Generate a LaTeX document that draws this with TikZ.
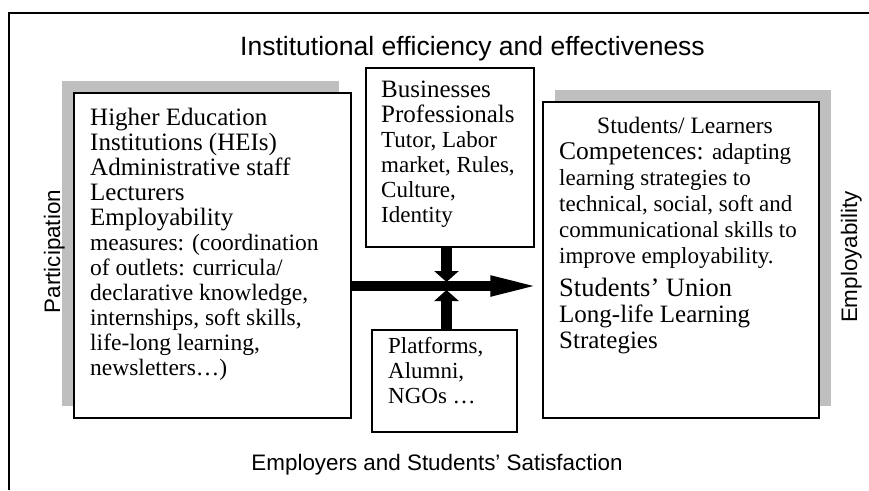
\documentclass[tikz,border=0pt]{standalone}
\usepackage{fontspec}
\setmainfont{Liberation Serif}
\newfontfamily\labelfont{Liberation Sans}
\usepackage{tikz}
\usetikzlibrary{positioning,arrows.meta,shadows}

\newcommand{\bigsz}{\fontsize{25}{25}\selectfont}
\newcommand{\midsz}{\fontsize{23.5}{25}\selectfont}
\newcommand{\smallsz}{\fontsize{23}{25}\selectfont}

\begin{document}
\begin{tikzpicture}[x=1pt,y=-1pt,
  box/.style={draw, line width=1.5pt, fill=white, inner sep=0pt},
  shadeleft/.style={drop shadow={shadow xshift=-12pt, shadow yshift=12pt, fill=black!25, opacity=1}},
  shaderight/.style={drop shadow={shadow xshift=12pt, shadow yshift=12pt, fill=black!25, opacity=1}},
  boxtext/.style={align=left, anchor=north west, inner sep=0pt, font=\bigsz},
  caption/.style={inner sep=0pt, anchor=base, font=\labelfont\fontsize{22.4}{24}\selectfont},
  mainflow/.style={line width=10pt, -{Triangle[length=52pt, width=18pt]}},
  sideflow/.style={line width=11.6pt, -{Triangle[length=11pt, width=24pt]}}
  ]
  \useasboundingbox (0,0) rectangle (869,490);
  \draw[line width=1.5pt] (869,13) -| (9,490);

  % boxes
  \node[box, shadeleft, minimum width=277pt, minimum height=325pt] (hei) at (212.5,255.5) {};
  \node[box, minimum width=168pt, minimum height=179pt] (business) at (450,157.5) {};
  \node[box, minimum width=145pt, minimum height=102pt] (platforms) at (444.5,381) {};
  \node[box, shaderight, minimum width=276pt, minimum height=316pt] (learners) at (681,260) {};

  % box contents (placed by the top of the first line)
  \node[boxtext] (heitext) at (90,108) {Higher Education\\ Institutions (HEIs)\\ Administrative staff\\ Lecturers\\ Employability\\
    {\midsz measures: (coordination}\\ {\midsz of outlets: curricula/}\\ {\midsz declarative knowledge,}\\
    {\midsz internships, soft skills,}\\ {\midsz life-long learning,}\\ {\midsz newsletters…)}};
  \node[boxtext] (businesstext) at (381,80.5) {Businesses\\ Professionals\\ {\smallsz Tutor, Labor}\\ {\smallsz market, Rules,}\\
    {\smallsz Culture,}\\ {\smallsz Identity}};
  \node[boxtext, font=\smallsz] (platformstext) at (388,337.3) {Platforms,\\ Alumni,\\ NGOs …};
  \node[inner sep=0pt, anchor=base, font=\midsz] (learnerstitle) at (685,133) {Students/ Learners};
  \node[boxtext, font=\fontsize{25}{26}\selectfont] (learnerstext) at (559,142.7) {{\fontsize{25.5}{26}\selectfont Competences:} {\smallsz adapting}\\
    {\smallsz learning strategies to}\\ {\smallsz technical, social, soft and}\\ {\smallsz communicational skills to}\\
    {\smallsz improve employability.}\\[7pt] {\fontsize{26.5}{26}\selectfont Students’ Union}\\ Long-life Learning\\ Strategies};

  % side labels
  \node[caption, font=\labelfont\fontsize{26.5}{28}\selectfont] (efficiency) at (472.5,55) {Institutional efficiency and effectiveness};
  \node[caption] (satisfaction) at (437,470) {Employers and Students’ Satisfaction};
  \node[caption, rotate=90] (participation) at (60,251.5) {Participation};
  \node[caption, rotate=90] (employability) at (857,257) {Employability};

  % flows
  \coordinate (hub) at (446.5,286);
  \draw[mainflow] (hei.east |- hub) -- (learners.west |- hub);
  \draw[sideflow] (business.south -| hub) -- ([yshift=4pt]hub);
  \draw[sideflow] (platforms.north -| hub) -- ([yshift=-4pt]hub);
\end{tikzpicture}
\end{document}
